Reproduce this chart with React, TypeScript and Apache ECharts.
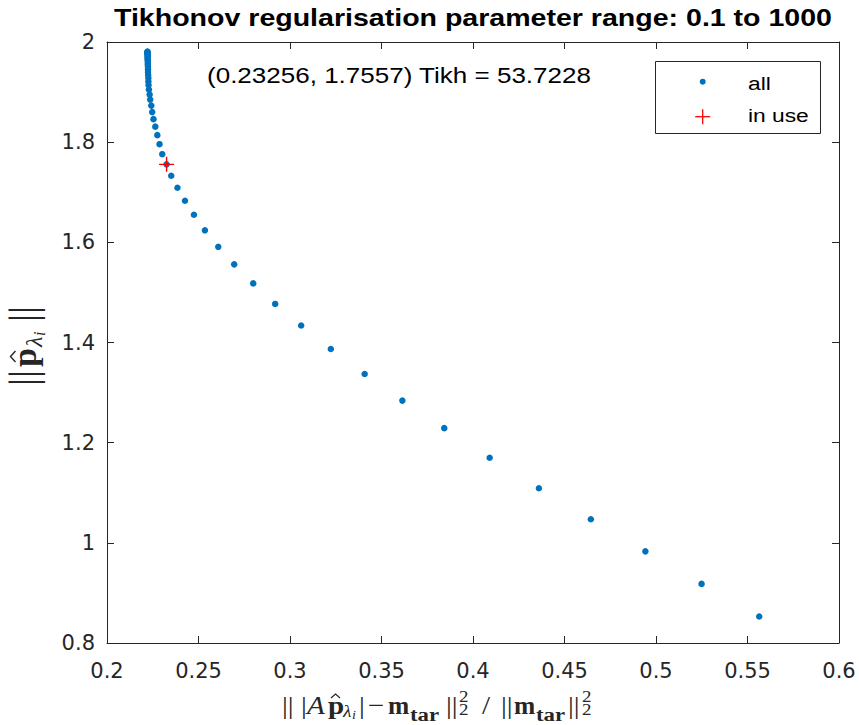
import React, { useEffect, useRef } from "react";
import * as echarts from "echarts";

// ---------- data ----------
const allX = [
  0.2221, 0.2221, 0.2221, 0.2221, 0.2221, 0.2222, 0.2222, 0.2222, 0.2222, 0.2222,
  0.2223, 0.2223, 0.2223, 0.2224, 0.2224, 0.2224, 0.2225, 0.2226, 0.2226,
  0.2227, 0.2229, 0.2233, 0.2236, 0.2242, 0.2247, 0.2254, 0.2264, 0.2275, 0.2287,
  0.2302, 0.23256, 0.2351, 0.2385, 0.2426, 0.2475, 0.2535, 0.2608, 0.2695, 0.2799,
  0.2919, 0.3061, 0.3223, 0.3408, 0.3614, 0.3843, 0.4091, 0.436, 0.4644, 0.4942,
  0.5249, 0.5564,
];
const allY = [
  1.981, 1.98, 1.979, 1.978, 1.977, 1.975, 1.973, 1.971, 1.968, 1.965,
  1.962, 1.958, 1.954, 1.95, 1.945, 1.94, 1.934, 1.928, 1.921,
  1.914, 1.905, 1.895, 1.885, 1.873, 1.86, 1.846, 1.831, 1.814, 1.796,
  1.776, 1.7557, 1.733, 1.709, 1.683, 1.655, 1.624, 1.591, 1.556, 1.518,
  1.477, 1.434, 1.387, 1.337, 1.284, 1.229, 1.17, 1.109, 1.047, 0.983,
  0.918, 0.853,
];
const inUseX = [0.23256];
const inUseY = [1.7557];
const legendNames = ["all", "in use"];
const titleText = "Tikhonov regularisation parameter range: 0.1 to 1000";
const annotationText = "(0.23256, 1.7557) Tikh = 53.7228";
const xRange = { min: 0.2, max: 0.6, interval: 0.05 };
const yRange = { min: 0.8, max: 2, interval: 0.2 };

const AX = "#262626";
const BLUE = "#0072BD";
const RED = "#FF0000";
const PLUS = "path://M6.8,0H8.2V6.8H15V8.2H8.2V15H6.8V8.2H0V6.8H6.8Z";
const SERIF = '"Liberation Serif", "Times New Roman", serif';
const SANS = '"Liberation Sans", Arial, sans-serif';

function txt(x: number, y: number, text: string, size: number, opts: any = {}) {
  return {
    type: "text",
    x,
    y,
    scaleX: opts.scaleX ?? 1,
    z: 100,
    style: {
      text,
      fontSize: size,
      fontFamily: opts.family ?? SERIF,
      fontWeight: opts.weight ?? "normal",
      fontStyle: opts.italic ? "italic" : "normal",
      fill: opts.color ?? AX,
      textAlign: opts.align ?? "left",
      textVerticalAlign: "middle",
    },
  };
}

// baseline -> middle y for Liberation Serif
const mid = (baseline: number, size: number) => baseline - 0.3375 * size;

function xLabelPieces() {
  const b = 714;
  const s = 26;
  const sx = 1.12;
  return [
    txt(282, mid(b, s), "||", s, { scaleX: sx }),
    txt(301, mid(b, s), "|", s, { scaleX: sx }),
    txt(307, mid(b, s), "A", s, { italic: true, scaleX: sx }),
    txt(328, mid(b, s), "p", s, { weight: "bold", scaleX: sx }),
    {
      type: "polyline",
      z: 100,
      shape: { points: [[331, 698], [335.5, 694], [340, 698]] },
      style: { stroke: AX, lineWidth: 1.2, fill: "none" },
    },
    txt(343, mid(717, 17.5), "λ", 17.5, { italic: true, scaleX: sx }),
    txt(352, mid(719, 12.5), "i", 12.5, { italic: true, scaleX: sx }),
    txt(359, mid(b, s), "|", s, { scaleX: sx }),
    txt(368, mid(b, s), "−", s, { scaleX: sx }),
    txt(388, mid(b, 25), "m", 25, { weight: "bold", scaleX: 1.02 }),
    txt(410, mid(721, 19), "tar", 19, { weight: "bold", scaleX: 1.2 }),
    txt(446, mid(b, s), "||", s, { scaleX: sx }),
    txt(459, mid(701.7, 17), "2", 17, { scaleX: sx }),
    txt(459, mid(715, 17), "2", 17, { scaleX: sx }),
    txt(482, mid(b, s), "/", s, { scaleX: sx }),
    txt(501, mid(b, s), "||", s, { scaleX: sx }),
    txt(514, mid(b, 25), "m", 25, { weight: "bold", scaleX: 1.02 }),
    txt(536, mid(721, 19), "tar", 19, { weight: "bold", scaleX: 1.2 }),
    txt(568, mid(b, s), "||", s, { scaleX: sx }),
    txt(582, mid(701.7, 17), "2", 17, { scaleX: sx }),
    txt(582, mid(715, 17), "2", 17, { scaleX: sx }),
  ];
}

function yLabelGroup() {
  // rotated group: local x runs upward on screen, local y runs right
  const ch = (lx: number, baseOff: number, text: string, size: number, opts: any = {}) => ({
    type: "text",
    x: lx,
    y: baseOff - 0.3375 * size,
    style: {
      text,
      fontSize: size,
      fontFamily: SERIF,
      fontWeight: opts.weight ?? "normal",
      fontStyle: opts.italic ? "italic" : "normal",
      fill: AX,
      textAlign: "left",
      textVerticalAlign: "middle",
    },
  });
  return [
    {
      type: "group",
      x: 36,
      y: 386,
      rotation: Math.PI / 2,
      z: 100,
      children: [
        ch(0, 0, "||", 40),
        ch(19, 0, "p", 34, { weight: "bold" }),
        ch(39, 6, "λ", 24, { italic: true }),
        ch(50, 9, "i", 16, { italic: true }),
        ch(64, 0, "||", 40),
      ],
    },
    {
      type: "polyline",
      z: 100,
      shape: { points: [[15.5, 351], [10.5, 356.5], [15.5, 362]] },
      style: { stroke: AX, lineWidth: 1.4, fill: "none" },
    },
  ];
}

function legendGraphic() {
  return [
    {
      type: "rect",
      z: 100,
      shape: { x: 655.5, y: 61.5, width: 165, height: 72 },
      style: { fill: "#ffffff", stroke: AX, lineWidth: 1 },
    },
    {
      type: "circle",
      z: 101,
      shape: { cx: 702.7, cy: 81.7, r: 3 },
      style: { fill: BLUE },
    },
    {
      type: "line",
      z: 101,
      shape: { x1: 695.2, y1: 116.7, x2: 710.2, y2: 116.7 },
      style: { stroke: RED, lineWidth: 1.3 },
    },
    {
      type: "line",
      z: 101,
      shape: { x1: 702.7, y1: 109.2, x2: 702.7, y2: 124.2 },
      style: { stroke: RED, lineWidth: 1.3 },
    },
    txt(748, 90 - 0.3465 * 19, legendNames[0], 19, { family: SANS, color: "#000", scaleX: 1.2 }),
    txt(748, 121.7 - 0.3465 * 19, legendNames[1], 19, { family: SANS, color: "#000", scaleX: 1.2 }),
  ];
}

export default function App() {
  const ref = useRef<HTMLDivElement>(null);
  useEffect(() => {
    if (!ref.current) return;
    const chart = echarts.init(ref.current, null, { renderer: "svg" });

    const axisCommon = {
      type: "value",
      axisLine: { show: true, onZero: false, lineStyle: { color: AX, width: 1 } },
      axisTick: { show: true, inside: true, length: 7, lineStyle: { color: AX, width: 1 } },
      splitLine: { show: false },
    };
    const tickLabel = {
      fontFamily: '"DejaVu Sans", sans-serif',
      fontSize: 21,
      lineHeight: 21,
      color: AX,
    };

    chart.setOption({
      animation: false,
      backgroundColor: "#ffffff",
      grid: { left: 107, right: 20, top: 42, bottom: 82, containLabel: false },
      xAxis: [
        {
          ...axisCommon,
          position: "bottom",
          ...xRange,
          axisLabel: {
            ...tickLabel,
            margin: 17,
            formatter: (v: number) => String(+v.toFixed(2)),
          },
        },
        {
          ...axisCommon,
          position: "top",
          ...xRange,
          axisLabel: { show: false },
        },
      ],
      yAxis: [
        {
          ...axisCommon,
          position: "left",
          ...yRange,
          axisLabel: {
            ...tickLabel,
            margin: 12,
            formatter: (v: number) => String(+v.toFixed(1)),
          },
        },
        {
          ...axisCommon,
          position: "right",
          ...yRange,
          axisLabel: { show: false },
        },
      ],
      series: [
        {
          name: legendNames[0],
          type: "scatter",
          xAxisIndex: 0,
          yAxisIndex: 0,
          symbol: "circle",
          symbolSize: 6.5,
          itemStyle: { color: BLUE, opacity: 1 },
          data: allX.map((x, i) => [x, allY[i]]),
          z: 2,
        },
        {
          name: legendNames[1],
          type: "scatter",
          xAxisIndex: 0,
          yAxisIndex: 0,
          symbol: PLUS,
          symbolSize: 15,
          itemStyle: { color: RED, opacity: 1 },
          data: inUseX.map((x, i) => [x, inUseY[i]]),
          z: 3,
        },
      ],
      graphic: [
        txt(473, 18, titleText, 24, {
          family: SANS,
          weight: "bold",
          color: "#000",
          align: "center",
          scaleX: 1.19,
        }),
        txt(207, 82.7 - 0.3465 * 21.5, annotationText, 21.5, {
          family: SANS,
          color: "#000",
          scaleX: 1.21,
        }),
        ...legendGraphic(),
        ...xLabelPieces(),
        ...yLabelGroup(),
      ],
    });
    return () => chart.dispose();
  }, []);

  return (
    <div
      ref={ref}
      style={{ position: "fixed", left: 0, top: 0, width: 859, height: 725, background: "#fff" }}
    />
  );
}
